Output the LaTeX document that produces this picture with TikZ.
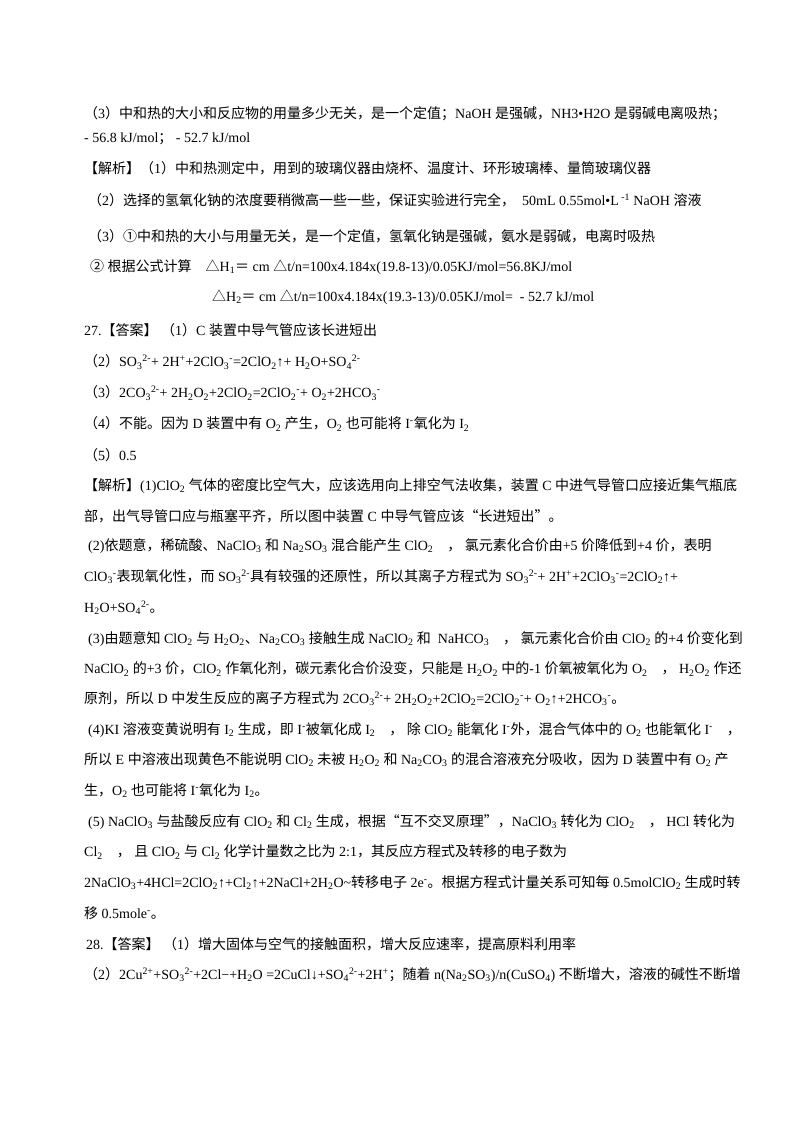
\documentclass[tikz,border=0pt]{standalone}
\usepackage{fontspec}
\setmainfont{Liberation Serif}
\newfontfamily\cjk{Noto Sans CJK SC}
\XeTeXinterchartokenstate=1
\newXeTeXintercharclass\CJKcls
\makeatletter
\def\setcls#1#2{\count255=#1 \loop\XeTeXcharclass\count255=\CJKcls \advance\count255 by 1 \ifnum\count255<#2 \repeat}
\makeatother
\setcls{"4E00}{"A000}
\setcls{"3000}{"3040}
\setcls{"FF00}{"FFF0}
\setcls{"2460}{"2474}
\setcls{"25B3}{"25B4}
\setcls{"201C}{"201E}
\XeTeXinterchartoks 0 \CJKcls {\begingroup\cjk}
\XeTeXinterchartoks 4095 \CJKcls {\begingroup\cjk}
\XeTeXinterchartoks \CJKcls 0 {\endgroup}
\XeTeXinterchartoks \CJKcls 4095 {\endgroup}
\newcommand\xsup[1]{\textsuperscript{#1}}
\newcommand\xsub[1]{\textsubscript{#1}}
\tikzset{ln/.style={anchor=west,inner sep=0pt,font=\fontsize{14}{16}\selectfont}}
\begin{document}
\begin{tikzpicture}[x=1pt,y=-1pt]
\useasboundingbox[fill=white] (0,0) rectangle (800,1132);
\node[ln] (l1) at (84,114) {（3）中和热的大小和反应物的用量多少无关，是一个定值；NaOH 是强碱，NH3•H2O 是弱碱电离吸热；};
\node[ln] (l2) at (84,139) {- 56.8 kJ/mol；\ - 52.7 kJ/mol};
\node[ln] (l3) at (84,168) {【解析】（1）中和热测定中，用到的玻璃仪器由烧杯、温度计、环形玻璃棒、量筒玻璃仪器};
\node[ln] (l4) at (88,200) {（2）选择的氢氧化钠的浓度要稍微高一些一些，保证实验进行完全，\ \ 50mL 0.55mol•L\xsup{ -1} NaOH 溶液};
\node[ln] (l5) at (88,236) {（3）①中和热的大小与用量无关，是一个定值，氢氧化钠是强碱，氨水是弱碱，电离时吸热};
\node[ln] (l6) at (90,267) {② 根据公式计算\quad △H\xsub{1}＝ cm △t/n=100x4.184x(19.8-13)/0.05KJ/mol=56.8KJ/mol};
\node[ln] (l7) at (212,297) {△H\xsub{2}＝ cm △t/n=100x4.184x(19.3-13)/0.05KJ/mol=\ \ - 52.7 kJ/mol};
\node[ln] (l8) at (84,330) {27.【答案】\ （1）C 装置中导气管应该长进短出};
\node[ln] (l9) at (84,362) {（2）SO\xsub{3}\xsup{2-}+ 2H\xsup{+}+2ClO\xsub{3}\xsup{-}=2ClO\xsub{2}↑+ H\xsub{2}O+SO\xsub{4}\xsup{2-}};
\node[ln] (l10) at (84,393) {（3）2CO\xsub{3}\xsup{2-}+ 2H\xsub{2}O\xsub{2}+2ClO\xsub{2}=2ClO\xsub{2}\xsup{-}+ O\xsub{2}+2HCO\xsub{3}\xsup{-}};
\node[ln] (l11) at (84,424) {（4）不能。因为 D 装置中有 O\xsub{2} 产生，O\xsub{2} 也可能将 I\xsup{-}氧化为 I\xsub{2}};
\node[ln] (l12) at (84,455) {（5）0.5};
\node[ln] (l13) at (84,486) {【解析】(1)ClO\xsub{2} 气体的密度比空气大，应该选用向上排空气法收集，装置 C 中进气导管口应接近集气瓶底};
\node[ln] (l14) at (84,516) {部，出气导管口应与瓶塞平齐，所以图中装置 C 中导气管应该“长进短出”。};
\node[ln] (l15) at (88,546) {(2)依题意，稀硫酸、NaClO\xsub{3} 和 Na\xsub{2}SO\xsub{3} 混合能产生 ClO\xsub{2}\quad ，\ 氯元素化合价由+5 价降低到+4 价，表明};
\node[ln] (l16) at (84,577) {ClO\xsub{3}\xsup{-}表现氧化性，而 SO\xsub{3}\xsup{2-}具有较强的还原性，所以其离子方程式为 SO\xsub{3}\xsup{2-}+ 2H\xsup{+}+2ClO\xsub{3}\xsup{-}=2ClO\xsub{2}↑+};
\node[ln] (l17) at (84,608) {H\xsub{2}O+SO\xsub{4}\xsup{2-}。};
\node[ln] (l18) at (88,639) {(3)由题意知 ClO\xsub{2} 与 H\xsub{2}O\xsub{2}、Na\xsub{2}CO\xsub{3} 接触生成 NaClO\xsub{2} 和\ \ NaHCO\xsub{3}\quad ，\ 氯元素化合价由 ClO\xsub{2} 的+4 价变化到};
\node[ln] (l19) at (84,669) {NaClO\xsub{2} 的+3 价，ClO\xsub{2} 作氧化剂，碳元素化合价没变，只能是 H\xsub{2}O\xsub{2} 中的-1 价氧被氧化为 O\xsub{2}\quad ，\ H\xsub{2}O\xsub{2} 作还};
\node[ln] (l20) at (84,699) {原剂，所以 D 中发生反应的离子方程式为 2CO\xsub{3}\xsup{2-}+ 2H\xsub{2}O\xsub{2}+2ClO\xsub{2}=2ClO\xsub{2}\xsup{-}+ O\xsub{2}↑+2HCO\xsub{3}\xsup{-}。};
\node[ln] (l21) at (88,730) {(4)KI 溶液变黄说明有 I\xsub{2} 生成，即 I\xsup{-}被氧化成 I\xsub{2}\quad ，\ 除 ClO\xsub{2} 能氧化 I\xsup{-}外，混合气体中的 O\xsub{2} 也能氧化 I\xsup{-}\quad ，};
\node[ln] (l22) at (84,760) {所以 E 中溶液出现黄色不能说明 ClO\xsub{2} 未被 H\xsub{2}O\xsub{2} 和 Na\xsub{2}CO\xsub{3} 的混合溶液充分吸收，因为 D 装置中有 O\xsub{2} 产};
\node[ln] (l23) at (84,791) {生，O\xsub{2} 也可能将 I\xsup{-}氧化为 I\xsub{2}。};
\node[ln] (l24) at (88,822) {(5) NaClO\xsub{3} 与盐酸反应有 ClO\xsub{2} 和 Cl\xsub{2} 生成，根据“互不交叉原理”，NaClO\xsub{3} 转化为 ClO\xsub{2}\quad ，\ HCl 转化为};
\node[ln] (l25) at (84,852) {Cl\xsub{2}\quad ，\ 且 ClO\xsub{2} 与 Cl\xsub{2} 化学计量数之比为 2:1，其反应方程式及转移的电子数为};
\node[ln] (l26) at (84,883) {2NaClO\xsub{3}+4HCl=2ClO\xsub{2}↑+Cl\xsub{2}↑+2NaCl+2H\xsub{2}O\textasciitilde 转移电子 2e\xsup{-}。根据方程式计量关系可知每 0.5molClO\xsub{2} 生成时转};
\node[ln] (l27) at (84,913) {移 0.5mole\xsup{-}。};
\node[ln] (l28) at (86,944) {28.【答案】\ （1）增大固体与空气的接触面积，增大反应速率，提高原料利用率};
\node[ln] (l29) at (84,975) {（2）2Cu\xsup{2+}+SO\xsub{3}\xsup{2-}+2Cl\textminus+H\xsub{2}O =2CuCl↓+SO\xsub{4}\xsup{2-}+2H\xsup{+}；随着 n(Na\xsub{2}SO\xsub{3})/n(CuSO\xsub{4})\ 不断增大，溶液的碱性不断增};
\end{tikzpicture}
\end{document}
